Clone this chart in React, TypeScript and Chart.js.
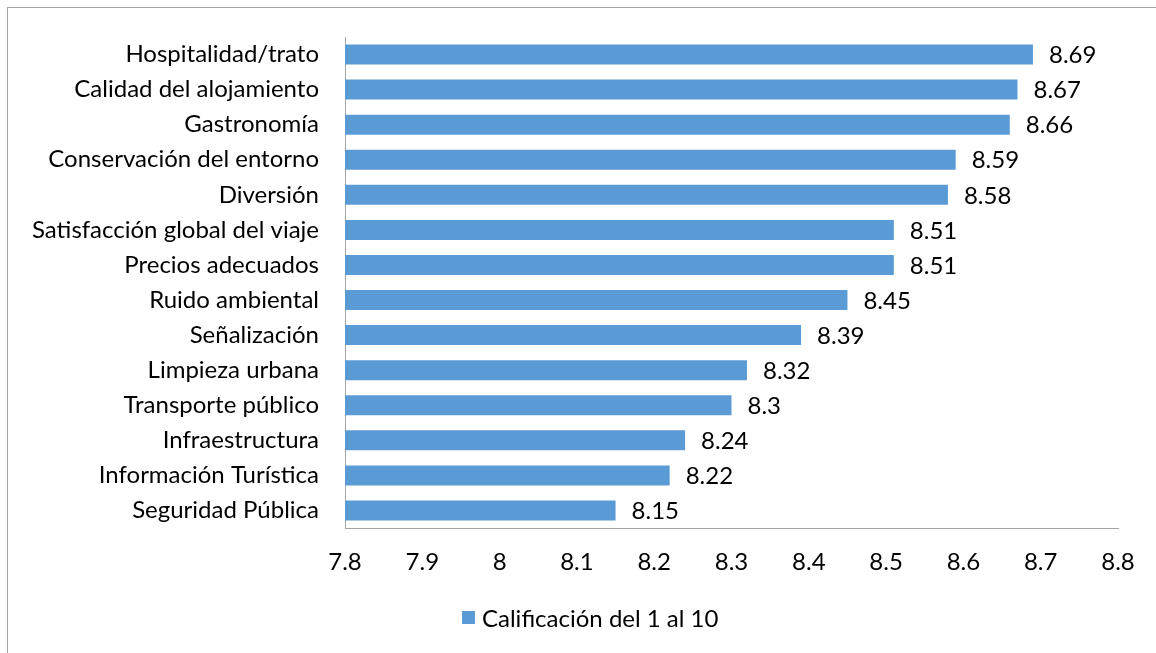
import React, { useEffect, useRef } from "react";
import { Chart, registerables } from "chart.js";

Chart.register(...registerables);

const categories = [
  "Hospitalidad/trato",
  "Calidad del alojamiento",
  "Gastronomía",
  "Conservación del entorno",
  "Diversión",
  "Satisfacción global del viaje",
  "Precios adecuados",
  "Ruido ambiental",
  "Señalización",
  "Limpieza urbana",
  "Transporte público",
  "Infraestructura",
  "Información Turística",
  "Seguridad Pública",
];
const values = [8.69, 8.67, 8.66, 8.59, 8.58, 8.51, 8.51, 8.45, 8.39, 8.32, 8.3, 8.24, 8.22, 8.15];
const seriesName = "Calificación del 1 al 10";
const xMin = 7.8;
const xMax = 8.8;
const xStep = 0.1;

const FONT = "Lato, 'Liberation Sans', sans-serif";
const FS = 24;
const BAR = "#5b9bd5";
const AXIS = "#a6a6a6";

export default function App() {
  const ref = useRef<HTMLCanvasElement | null>(null);
  useEffect(() => {
    if (!ref.current) return;
    const labelPlugin = {
      id: "valueLabels",
      afterDatasetsDraw(chart: any) {
        const ctx = chart.ctx;
        const meta = chart.getDatasetMeta(0);
        ctx.save();
        ctx.font = `${FS}px ${FONT}`;
        ctx.fillStyle = "#000";
        ctx.textAlign = "left";
        ctx.textBaseline = "middle";
        meta.data.forEach((el: any, i: number) => {
          ctx.fillText(String(values[i]), el.x + 16, el.y + 1);
        });
        ctx.restore();
      },
    };
    const legendPlugin = {
      id: "customLegend",
      afterDraw(chart: any) {
        const ctx = chart.ctx;
        ctx.save();
        ctx.fillStyle = BAR;
        ctx.fillRect(462, 611, 13, 13);
        ctx.font = `${FS}px ${FONT}`;
        ctx.fillStyle = "#000";
        ctx.textAlign = "left";
        ctx.textBaseline = "middle";
        ctx.fillText(seriesName, 482, 619);
        ctx.restore();
      },
    };
    const chart = new Chart(ref.current, {
      type: "bar",
      data: {
        labels: categories,
        datasets: [
          {
            label: seriesName,
            data: values,
            backgroundColor: BAR,
            borderWidth: 0,
            barPercentage: 0.571,
            categoryPercentage: 1,
          },
        ],
      },
      options: {
        indexAxis: "y",
        responsive: false,
        animation: false,
        layout: { padding: { top: 37, right: 38, left: 0, bottom: 0 } },
        plugins: {
          legend: { display: false },
          tooltip: { enabled: false },
        },
        scales: {
          x: {
            min: xMin,
            max: xMax,
            grid: { display: false, drawTicks: false },
            border: { display: true, color: AXIS, width: 1 },
            ticks: {
              stepSize: xStep,
              padding: 20,
              color: "#000",
              font: { family: FONT, size: FS },
              maxRotation: 0,
              autoSkip: false,
              callback: (v: any) => String(Math.round(Number(v) * 10) / 10),
            },
            afterFit: (s: any) => {
              s.height = 125;
              s.paddingLeft = 0;
              s.paddingRight = 0;
            },
          },
          y: {
            grid: { display: false, drawTicks: false },
            border: { display: true, color: AXIS, width: 1 },
            ticks: {
              padding: 26,
              color: "#000",
              font: { family: FONT, size: FS },
              autoSkip: false,
            },
            afterFit: (s: any) => {
              s.width = 345;
              s.paddingTop = 0;
              s.paddingBottom = 0;
            },
          },
        },
      },
      plugins: [labelPlugin, legendPlugin],
    });
    return () => chart.destroy();
  }, []);
  return (
    <div>
      <div
        style={{
          position: "fixed",
          left: 7,
          top: 7,
          width: 1200,
          height: 700,
          border: `1px solid ${AXIS}`,
          boxSizing: "border-box",
        }}
      />
      <canvas
        ref={ref}
        width={1156}
        height={653}
        style={{ position: "fixed", left: 0, top: 0, width: 1156, height: 653 }}
      />
    </div>
  );
}
